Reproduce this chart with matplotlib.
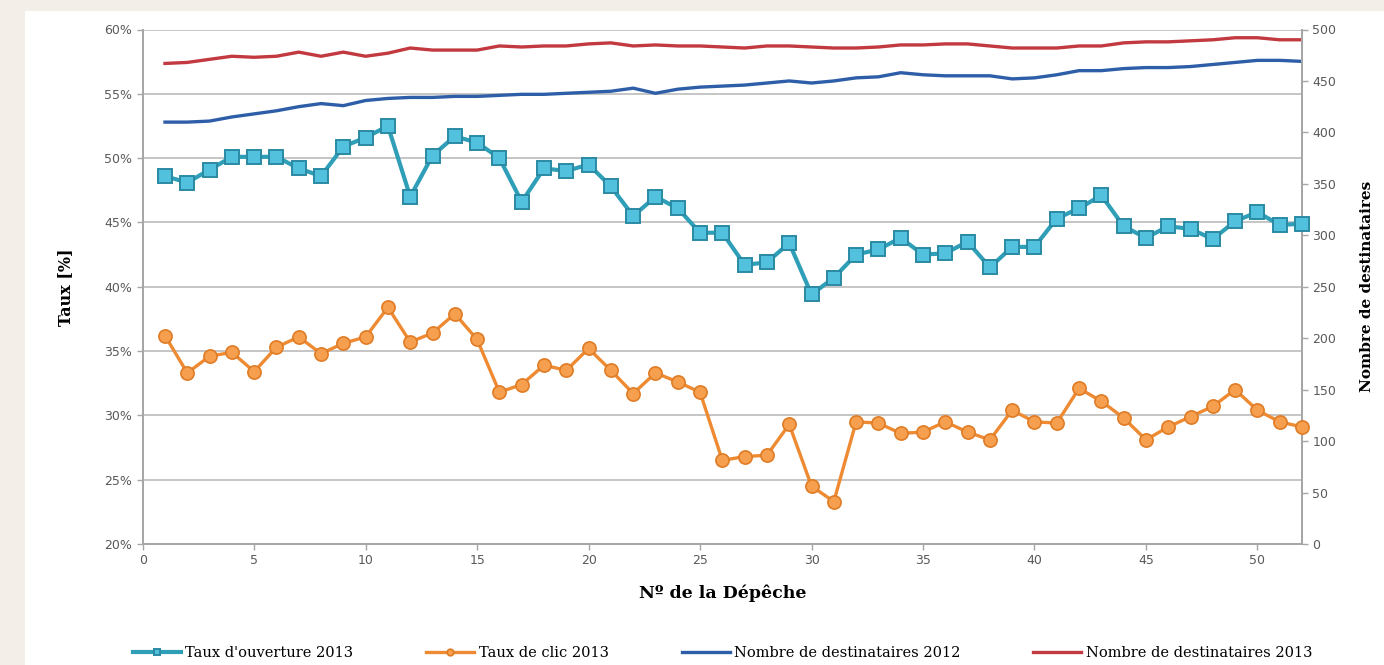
import numpy as np
import matplotlib.pyplot as plt
from matplotlib.patches import Rectangle
from matplotlib.ticker import FuncFormatter

# N° de la Dépêche
depeche = np.arange(1, 53)

# Taux (en %), axe de gauche
taux_ouverture_2013 = [48.6, 48.1, 49.1, 50.1, 50.1, 50.1, 49.2, 48.6, 50.9, 51.6,
                       52.5, 47.0, 50.2, 51.7, 51.2, 50.0, 46.6, 49.2, 49.0, 49.5,
                       47.8, 45.5, 47.0, 46.1, 44.2, 44.2, 41.7, 41.9, 43.4, 39.4,
                       40.7, 42.5, 42.9, 43.8, 42.5, 42.6, 43.5, 41.5, 43.1, 43.1,
                       45.3, 46.1, 47.1, 44.7, 43.8, 44.7, 44.5, 43.7, 45.1, 45.8,
                       44.8, 44.9]
taux_clic_2013 = [36.2, 33.3, 34.6, 34.9, 33.4, 35.3, 36.1, 34.8, 35.6, 36.1,
                  38.4, 35.7, 36.4, 37.9, 35.9, 31.8, 32.4, 33.9, 33.5, 35.2,
                  33.5, 31.7, 33.3, 32.6, 31.8, 26.5, 26.8, 26.9, 29.3, 24.5,
                  23.3, 29.5, 29.4, 28.6, 28.7, 29.5, 28.7, 28.1, 30.4, 29.5,
                  29.4, 32.1, 31.1, 29.8, 28.1, 29.1, 29.9, 30.7, 32.0, 30.4,
                  29.5, 29.1]

# Nombre de destinataires, axe de droite
dest_2012 = [410, 410, 411, 415, 418, 421, 425, 428, 426, 431,
             433, 434, 434, 435, 435, 436, 437, 437, 438, 439,
             440, 443, 438, 442, 444, 445, 446, 448, 450, 448,
             450, 453, 454, 458, 456, 455, 455, 455, 452, 453,
             456, 460, 460, 462, 463, 463, 464, 466, 468, 470,
             470, 469]
dest_2013 = [467, 468, 471, 474, 473, 474, 478, 474, 478, 474,
             477, 482, 480, 480, 480, 484, 483, 484, 484, 486,
             487, 484, 485, 484, 484, 483, 482, 484, 484, 483,
             482, 482, 483, 485, 485, 486, 486, 484, 482, 482,
             482, 484, 484, 487, 488, 488, 489, 490, 492, 492,
             490, 490]

W, H = 1384, 665
fig = plt.figure(figsize=(W / 100, H / 100), dpi=100)
fig.patch.set_facecolor('#f3efe8')
fig.patches.append(Rectangle((25 / W, 0), 1 - 25 / W, 1 - 11 / H,
                             transform=fig.transFigure, facecolor='white',
                             edgecolor='none', zorder=-5))

ax = fig.add_axes([142.7 / W, 1 - 544 / H, (1302 - 142.7) / W, (544 - 29.5) / H])
ax.set_facecolor('none')
ax2 = ax.twinx()
ax2.set_zorder(ax.get_zorder() - 1)
ax.patch.set_visible(False)

tick_col = '#595959'
spine_col = '#a6a6a6'

ax.plot(depeche, taux_ouverture_2013, color='#2f9fb8', lw=3.0, marker='s',
        ms=10, mfc='#52c1de', mec='#2b8aa3', mew=1.4, zorder=4, clip_on=False,
        label="Taux d'ouverture 2013")
ax.plot(depeche, taux_clic_2013, color='#ee8a32', lw=2.4, marker='o',
        ms=9.5, mfc='#f6a04f', mec='#e07c25', mew=1.2, zorder=4, clip_on=False,
        label='Taux de clic 2013')
ax2.plot(depeche, dest_2012, color='#2e5ea7', lw=2.4, label='Nombre de destinataires 2012')
ax2.plot(depeche, dest_2013, color='#c23a40', lw=2.4, label='Nombre de destinataires 2013')

ax.set_xlim(0, 52)
ax.set_ylim(20, 60)
ax.set_yticks(np.arange(20, 61, 5))
ax.yaxis.set_major_formatter(FuncFormatter(lambda v, p: f'{v:.0f}%'))
ax.set_xticks(np.arange(0, 51, 5))
ax2.set_ylim(0, 500)
ax2.set_yticks(np.arange(0, 501, 50))

# grid drawn on ax2 (behind) so it sits under the rate lines
for v in np.arange(25, 61, 5):
    ax2.axhline(v * 12.5 - 250, color='#c0c0c0', lw=1.3, zorder=0)

for a in (ax, ax2):
    a.spines['top'].set_visible(False)
    for s in ('left', 'right', 'bottom'):
        a.spines[s].set_color(spine_col)
        a.spines[s].set_linewidth(1.3)
    a.tick_params(colors=spine_col, labelcolor=tick_col, labelsize=9, length=4, width=1)

ax.set_ylabel('Taux [%]', family='DejaVu Serif', fontweight='bold', fontsize=11.5, labelpad=22)
ax2.set_ylabel('Nombre de destinataires', family='DejaVu Serif', fontweight='bold',
               fontsize=11, labelpad=17)
ax.set_xlabel('Nº de la Dépêche', family='DejaVu Serif', fontweight='bold', fontsize=12.5,
              labelpad=12)

h1, l1 = ax.get_legend_handles_labels()
h2, l2 = ax2.get_legend_handles_labels()
fig.legend(h1 + h2, l1 + l2, loc='center', bbox_to_anchor=(0.522, 12 / H), ncol=4,
           frameon=False, prop={'family': 'DejaVu Serif', 'size': 10.5},
           handlelength=3.3, handletextpad=0.3, columnspacing=5.0, markerscale=0.5)

fig.savefig('out.png', dpi=100, facecolor=fig.get_facecolor())
